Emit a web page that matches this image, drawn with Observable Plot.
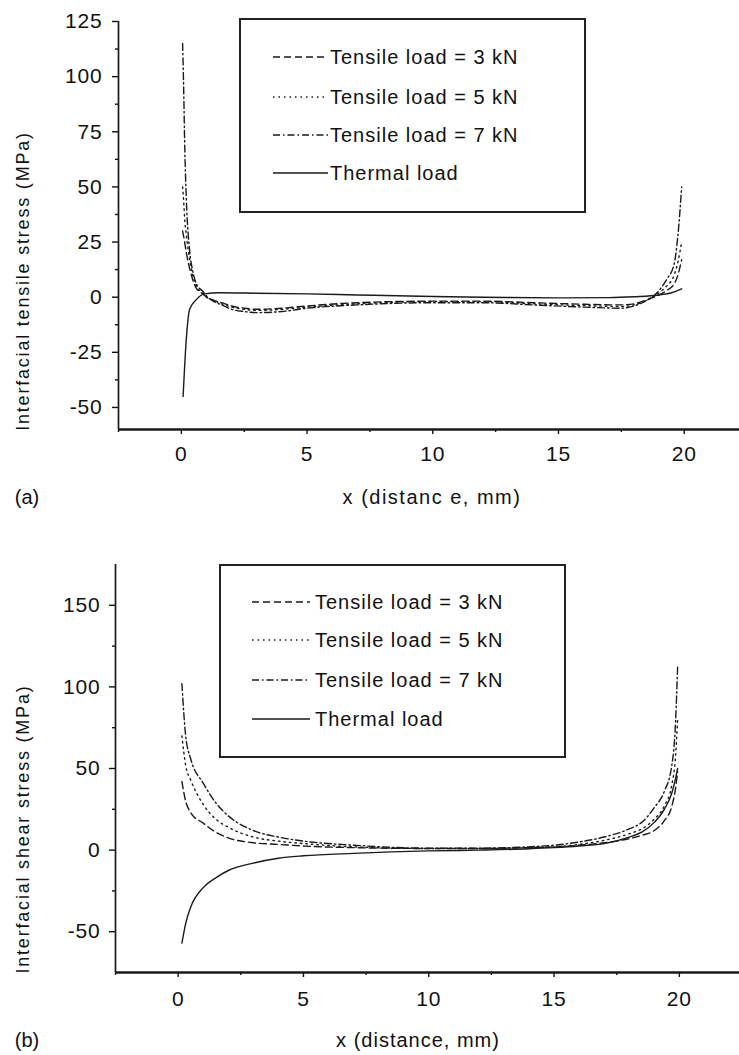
<!DOCTYPE html>
<html>
<head>
<meta charset="utf-8">
<script src="https://cdn.jsdelivr.net/npm/d3@7"></script>
<script src="https://cdn.jsdelivr.net/npm/@observablehq/plot@0.6"></script>
<style>
  body { margin: 0; background: #fff; }
  #wrap { position: relative; width: 739px; height: 1055px; overflow: hidden; background: #fff;
          font-family: "Liberation Sans", Arial, sans-serif; color: #111; }
  .panel { position: absolute; left: 0; }
  .panel text { letter-spacing: 0.8px; }
  .lbl { position: absolute; white-space: nowrap; font-size: 20px; transform: translate(-50%, -50%); }
  .ylbl { position: absolute; white-space: nowrap; font-size: 18px; letter-spacing: 1.8px;
          transform: translate(-50%, -50%) rotate(-90deg); }
  .legend { position: absolute; border: 2px solid #222; box-sizing: border-box; background: #fff; }
  .legend .row { position: absolute; left: 0; height: 24px; }
  .legend .row svg { position: absolute; top: 0; }
  .legend .row span { position: absolute; top: 0; line-height: 24px; font-size: 20px; letter-spacing: 1px; white-space: nowrap; }
</style>
</head>
<body>
<div id="wrap"></div>
<script>
// ---------- data ----------
const seriesNames = ["Tensile load = 3 kN", "Tensile load = 5 kN", "Tensile load = 7 kN", "Thermal load"];

// panel (a): interfacial tensile stress
const xA  = [0.05, 0.1, 0.13, 0.2, 0.33, 0.45, 0.6, 0.85, 1.0, 1.3, 1.6, 2, 2.5, 3, 4, 5, 7, 10, 12, 14, 16, 17.5, 18, 18.5, 19, 19.3, 19.6, 19.75, 19.9];
const yA3 = [30, 27, 25, 20, 13, 8, 4, 1.5, 0, -1.5, -2.5, -4, -5, -5.5, -5, -4, -2.5, -1.8, -1.8, -2.5, -3.2, -3.5, -3, -1.2, 1, 3, 6, 10, 17];
const yA5 = [50, 42, 36, 28, 17, 10, 5, 2, 0, -1.5, -3, -4.5, -5.5, -6, -5.5, -4.5, -3, -2, -2, -3, -3.8, -4.2, -3.5, -1.5, 2, 5, 10, 16, 25];
const yA7 = [115, 90, 71, 44, 21, 12, 6, 2.7, 0.5, -2, -3.5, -5.5, -6.5, -7, -6.5, -5, -3.5, -2.5, -2.5, -3.5, -4.5, -5, -4, -1.5, 3, 8, 15, 28, 50];
const xAT = [0.07, 0.2, 0.33, 0.6, 0.93, 1.5, 3, 5, 7, 10, 12, 15, 17, 18, 19, 19.5, 19.9];
const yAT = [-45, -18.5, -5.5, -1, 1.5, 2, 1.8, 1.5, 1, 0.3, 0, -0.3, -0.2, 0.2, 1, 2, 3.8];

// panel (b): interfacial shear stress
const xB  = [0.15, 0.3, 0.5, 1, 1.5, 2, 3, 4, 5, 7, 10, 12, 14, 15, 16, 17, 18, 18.5, 19, 19.4, 19.7, 19.85, 19.93];
const yB3 = [42, 30, 23, 16.5, 11, 7.5, 4.5, 3.5, 2.5, 1.5, 1, 1, 1.5, 2, 3, 4.5, 7, 9, 12, 18, 27, 38, 48];
const yB5 = [70, 52, 43, 28, 19, 14, 8, 5.5, 4, 2, 1, 1, 1.5, 2, 3.5, 6, 10, 13, 19, 27, 40, 58, 80];
const yB7 = [102, 70, 56, 41, 29, 21, 12, 8, 5.5, 3, 1.2, 1.2, 2, 3, 5, 8, 13, 17, 26, 36, 52, 79, 112];
const yBT = [-57, -45, -35, -23, -17, -12.5, -8, -5, -3.5, -2, -0.5, 0, 0.8, 1.5, 2.5, 4, 8, 11, 17, 25, 35, 44, 50];

// ticks
const xTicks  = [0, 5, 10, 15, 20];
const xMinor  = [-2.5, 2.5, 7.5, 12.5, 17.5];
const yTicksA = [125, 100, 75, 50, 25, 0, -25, -50];
const yMinorA = [112.5, 87.5, 62.5, 37.5, 12.5, -12.5, -37.5];
const yTicksB = [150, 100, 50, 0, -50];
const yMinorB = [125, 75, 25, -25];

// texts
const yTitleA = "Interfacial tensile stress (MPa)";
const yTitleB = "Interfacial shear stress (MPa)";
const xTitleA = "x (distanc e, mm)";
const xTitleB = "x (distance, mm)";

// ---------- styles ----------
const DASH = ["7,4", "1.5,4", "7,3,1.5,3", null];
const INK = "#1a1a1a";
const FONT = "'Liberation Sans', Arial, sans-serif";

const wrap = document.getElementById("wrap");

function rows(xs, ys) { return xs.map((x, i) => ({x, y: ys[i]})); }

function panel(o) {
  const lines = o.series.map((s, i) =>
    Plot.line(rows(s.x, s.y), {x: "x", y: "y", stroke: INK, strokeWidth: 1.4,
      strokeDasharray: DASH[i] ?? undefined, curve: "monotone-x"}));
  const svg = Plot.plot({
    width: 739, height: o.height,
    marginTop: o.mt, marginBottom: o.mb, marginLeft: o.ml, marginRight: 0,
    x: {domain: o.xDomain, axis: null},
    y: {domain: o.yDomain, axis: null},
    style: {fontFamily: FONT, fontSize: "21px", color: "#111", background: "transparent", overflow: "visible"},
    marks: [
      Plot.axisY(o.yTicks, {tickSize: 6, tickPadding: o.yPad, tickFormat: d => String(d), fontSize: 21, label: null, strokeWidth: 1.4}),
      Plot.axisY(o.yMinor, {tickSize: 3, tickFormat: () => "", label: null, strokeWidth: 1.4}),
      Plot.axisX(xTicks, {tickSize: 5, tickPadding: o.xPad, tickFormat: d => String(d), fontSize: 21, label: null, strokeWidth: 1.4}),
      Plot.axisX(xMinor, {tickSize: 3, tickFormat: () => "", label: null, strokeWidth: 1.4}),
      Plot.ruleX([o.xDomain[0]], {stroke: INK, strokeWidth: 1.7}),
      Plot.ruleY([o.yDomain[0]], {stroke: INK, strokeWidth: 2.4}),
      ...lines
    ]
  });
  const div = document.createElement("div");
  div.className = "panel";
  div.style.top = o.top + "px";
  div.appendChild(svg);
  wrap.appendChild(div);
}

function label(cls, text, cx, cy) {
  const d = document.createElement("div");
  d.className = cls;
  d.textContent = text;
  d.style.left = cx + "px";
  d.style.top = cy + "px";
  wrap.appendChild(d);
  return d;
}

function legend(o) {
  const box = document.createElement("div");
  box.className = "legend";
  Object.assign(box.style, {left: o.left + "px", top: o.top + "px", width: o.w + "px", height: o.h + "px"});
  seriesNames.forEach((name, i) => {
    const r = document.createElement("div");
    r.className = "row";
    r.style.top = (o.rowY[i] - 12 - 2) + "px";
    r.style.width = o.w + "px";
    const len = o.sample[1] - o.sample[0];
    const s = document.createElementNS("http://www.w3.org/2000/svg", "svg");
    s.setAttribute("width", len); s.setAttribute("height", 24);
    s.style.left = (o.sample[0] - 2) + "px";
    const ln = document.createElementNS("http://www.w3.org/2000/svg", "line");
    ln.setAttribute("x1", 0); ln.setAttribute("x2", len);
    ln.setAttribute("y1", 12); ln.setAttribute("y2", 12);
    ln.setAttribute("stroke", INK); ln.setAttribute("stroke-width", 1.4);
    if (DASH[i]) ln.setAttribute("stroke-dasharray", DASH[i]);
    s.appendChild(ln);
    r.appendChild(s);
    const t = document.createElement("span");
    t.textContent = name;
    t.style.left = (o.textX - 2) + "px";
    r.appendChild(t);
    box.appendChild(r);
  });
  wrap.appendChild(box);
}

// panel (a)
panel({
  top: 0, height: 520, mt: 21, mb: 91, ml: 118,
  xDomain: [-2.5, 22.2], yDomain: [-60, 125],
  yTicks: yTicksA, yMinor: yMinorA, yPad: 10, xPad: 12,
  series: [{x: xA, y: yA3}, {x: xA, y: yA5}, {x: xA, y: yA7}, {x: xAT, y: yAT}]
});
legend({left: 239, top: 18, w: 347, h: 195, rowY: [39, 79, 117, 155], sample: [34, 89], textX: 91});
label("ylbl", yTitleA, 23, 281);
label("lbl", xTitleA, 432, 497).style.letterSpacing = "1.5px";
label("lbl", "(a)", 27, 497);

// panel (b)
panel({
  top: 530, height: 525, mt: 34, mb: 83, ml: 115,
  xDomain: [-2.5, 22.4], yDomain: [-75, 175],
  yTicks: yTicksB, yMinor: yMinorB, yPad: 9, xPad: 14,
  series: [{x: xB, y: yB3}, {x: xB, y: yB5}, {x: xB, y: yB7}, {x: xB, y: yBT}]
});
legend({left: 219, top: 564, w: 347, h: 194, rowY: [38, 76, 116, 155], sample: [33, 91], textX: 96});
label("ylbl", yTitleB, 23, 829);
label("lbl", xTitleB, 418, 1040).style.letterSpacing = "1px";
label("lbl", "(b)", 27, 1040);
</script>
</body>
</html>
